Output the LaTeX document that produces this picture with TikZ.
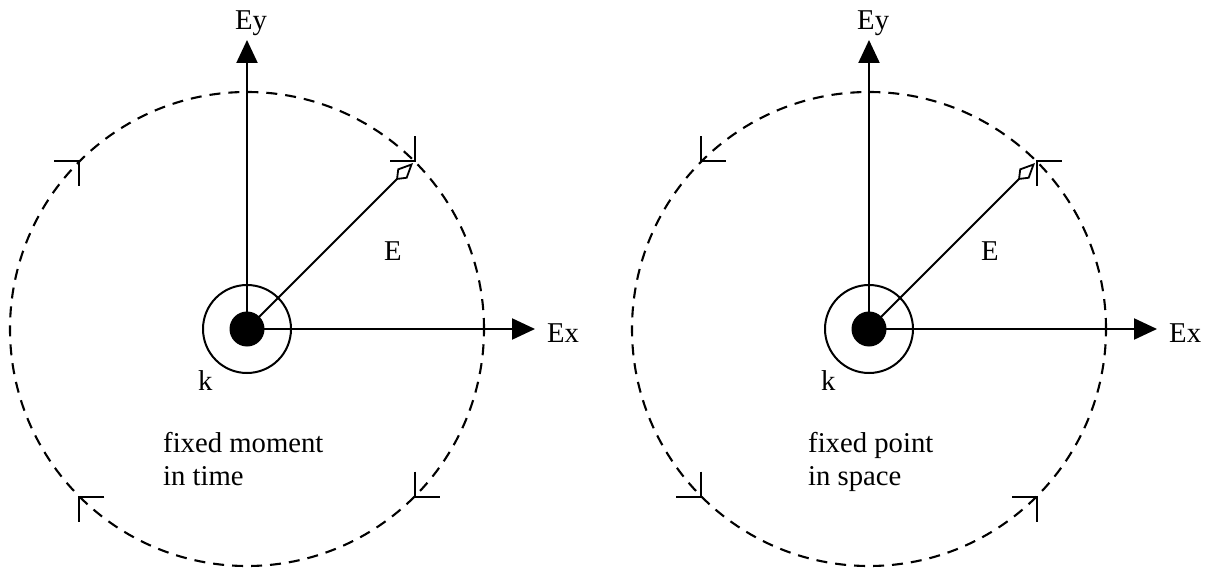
\documentclass[tikz,border=0pt]{standalone}
\usepackage{fontspec}
\setmainfont{Liberation Serif}
\usetikzlibrary{arrows.meta}
\begin{document}
\begin{tikzpicture}[x=1pt,y=1pt,
  axis/.style={line width=2.2pt,-{Triangle[length=23pt,width=21pt]}},
  evec/.style={line width=1.8pt,-{Kite[open,length=24pt,width=14pt,inset=9pt,line width=1.8pt]}},
  orbit/.style={line width=2.1pt,dash pattern=on 11pt off 8pt},
  marker/.style={line width=2.1pt},
  ring/.style={line width=2pt},
  lbl/.style={font=\fontsize{28.7}{33}\selectfont,inner sep=0pt,anchor=base west}]
\useasboundingbox[fill=white] (0,-569) rectangle (1214,0);
% ---------- left diagram ----------
\coordinate (c1) at (247,-329);
\coordinate (ey1) at (247,-40);
\coordinate (ex1) at (535,-329);
\path (c1) ++(45:166*1.414) coordinate (e1);
\path (c1) ++(45:237) coordinate (m11);
\path (c1) ++(135:237) coordinate (m12);
\path (c1) ++(225:237) coordinate (m13);
\path (c1) ++(315:237) coordinate (m14);
\draw[orbit] (c1) circle[radius=237];
\draw[marker] (m11) ++(90:25) -- (m11) -- ++(180:25);
\draw[marker] (m12) ++(180:25) -- (m12) -- ++(270:25);
\draw[marker] (m13) ++(0:25) -- (m13) -- ++(270:25);
\draw[marker] (m14) ++(90:25) -- (m14) -- ++(0:25);
\draw[axis] (c1) -- (ey1);
\draw[axis] (c1) -- (ex1);
\draw[evec] (c1) -- (e1);
\draw[ring] (c1) circle[radius=44];
\fill (c1) circle[radius=17.5];
\node[lbl] (ey1l) at (235,-30) {Ey};
\node[lbl] (ex1l) at (547,-342) {Ex};
\node[lbl] (e1l) at (384,-260) {E};
\node[lbl] (k1l) at (198,-390) {k};
\node[lbl] (t1a) at (163,-452) {fixed moment};
\node[lbl] (t1b) at (163,-485) {in time};
% ---------- right diagram ----------
\coordinate (c2) at (869,-329);
\coordinate (ey2) at (869,-40);
\coordinate (ex2) at (1157,-329);
\path (c2) ++(45:166*1.414) coordinate (e2);
\path (c2) ++(45:237) coordinate (m21);
\path (c2) ++(135:237) coordinate (m22);
\path (c2) ++(225:237) coordinate (m23);
\path (c2) ++(315:237) coordinate (m24);
\draw[orbit] (c2) circle[radius=237];
\draw[marker] (m21) ++(0:25) -- (m21) -- ++(270:25);
\draw[marker] (m22) ++(90:25) -- (m22) -- ++(0:25);
\draw[marker] (m23) ++(90:25) -- (m23) -- ++(180:25);
\draw[marker] (m24) ++(270:25) -- (m24) -- ++(180:25);
\draw[axis] (c2) -- (ey2);
\draw[axis] (c2) -- (ex2);
\draw[evec] (c2) -- (e2);
\draw[ring] (c2) circle[radius=44];
\fill (c2) circle[radius=17.5];
\node[lbl] (ey2l) at (857,-30) {Ey};
\node[lbl] (ex2l) at (1169,-342) {Ex};
\node[lbl] (e2l) at (981,-260) {E};
\node[lbl] (k2l) at (821,-390) {k};
\node[lbl] (t2a) at (808,-452) {fixed point};
\node[lbl] (t2b) at (808,-485) {in space};
\end{tikzpicture}
\end{document}
